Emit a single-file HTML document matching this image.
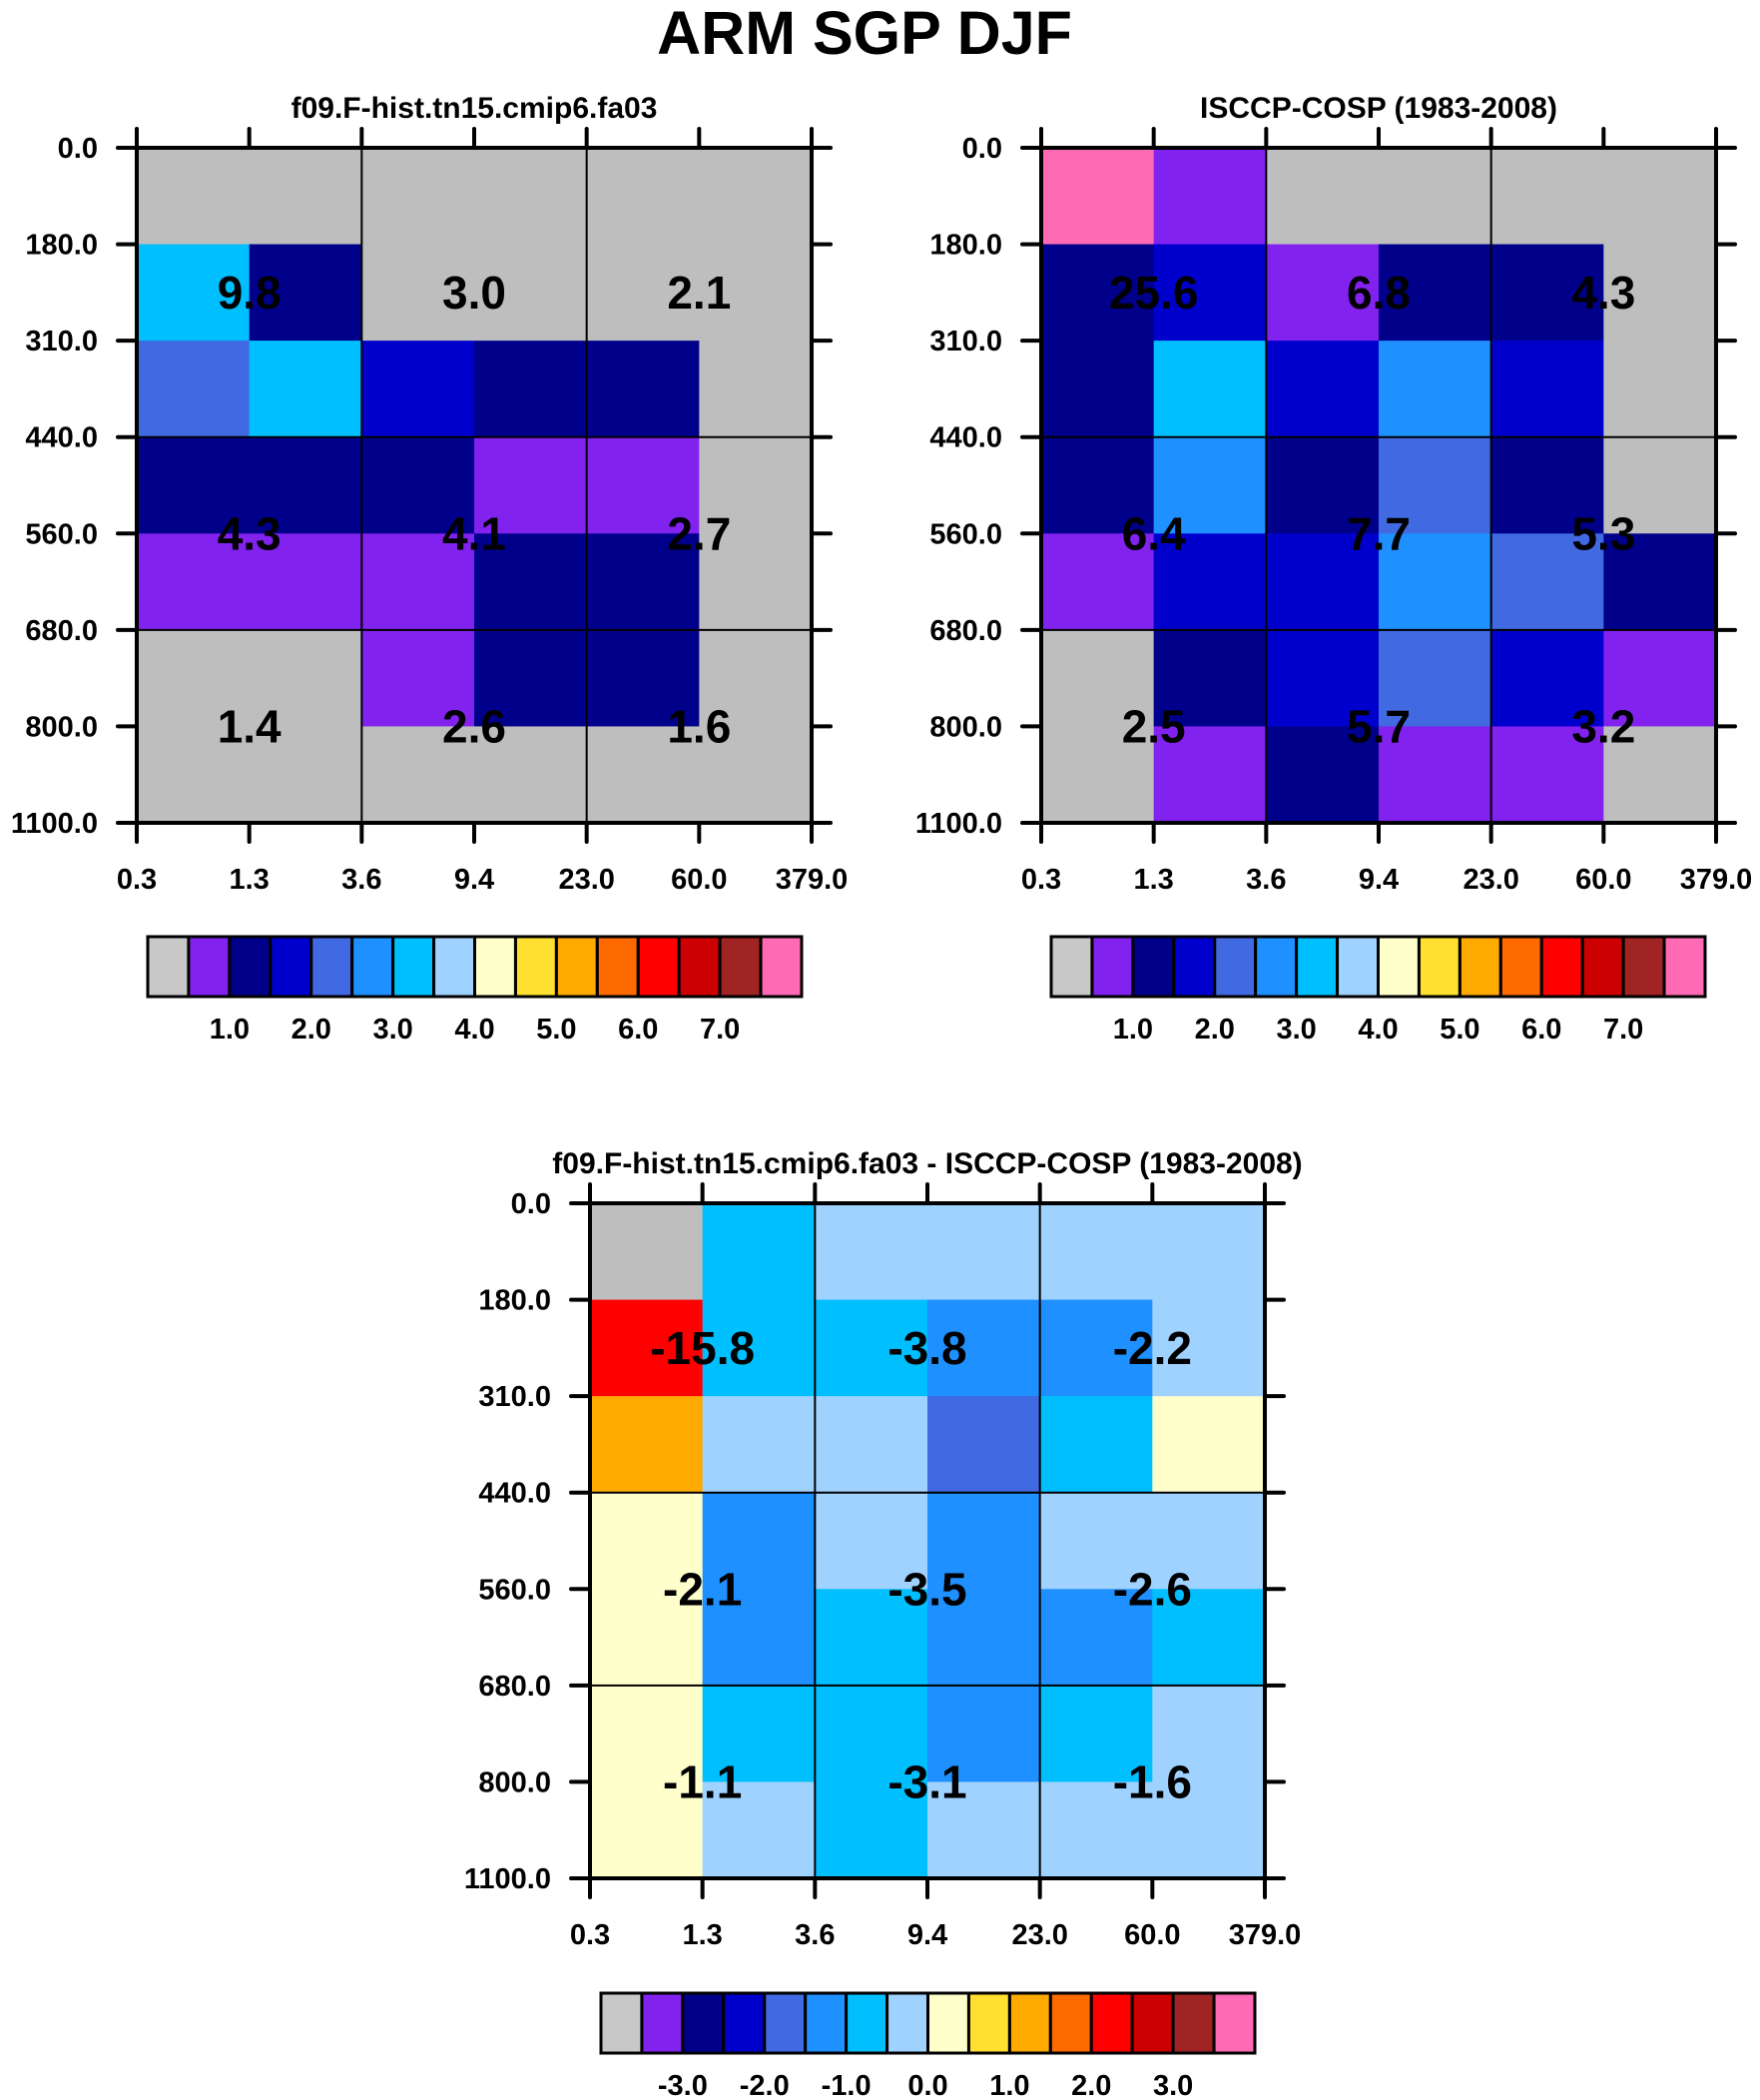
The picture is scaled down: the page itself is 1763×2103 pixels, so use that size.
<!DOCTYPE html>
<html><head><meta charset="utf-8"><style>
html,body{margin:0;padding:0;background:#fff}
svg{display:block;font-family:"Liberation Sans",Arial,sans-serif;font-weight:bold}
</style></head><body>
<svg id="s" width="1763" height="2103" viewBox="0 0 1763 2103" xmlns="http://www.w3.org/2000/svg">
<text x="866" y="54" text-anchor="middle" font-size="61">ARM SGP DJF</text>
</svg>
<script>
const xTickLabels = ["0.3","1.3","3.6","9.4","23.0","60.0","379.0"];
const yTickLabels = ["0.0","180.0","310.0","440.0","560.0","680.0","800.0","1100.0"];
const palette = ["#c8c8c8","#8222ee","#00008b","#0000cd","#4169e1","#1e90ff","#00bfff","#a0d2ff","#ffffcc","#ffe030","#ffaa00","#ff6a00","#ff0000","#cc0000","#a02424","#ff6ab4"];
const topLabels = ["1.0","2.0","3.0","4.0","5.0","6.0","7.0"];
const diffLabels = ["-3.0","-2.0","-1.0","0.0","1.0","2.0","3.0"];
const modelValues = [
 [0.2,0.2,0.2,0.2,0.2,0.2],
 [3.2,1.2,0.2,0.2,0.2,0.2],
 [2.2,3.2,1.7,1.2,1.2,0.2],
 [1.2,1.2,1.2,0.8,0.8,0.2],
 [0.8,0.8,0.8,1.2,1.2,0.2],
 [0.2,0.2,0.8,1.2,1.2,0.2],
 [0.2,0.2,0.2,0.2,0.2,0.2]];
const obsValues = [
 [8.0,0.8,0.2,0.2,0.2,0.2],
 [1.2,1.7,0.8,1.2,1.2,0.2],
 [1.2,3.2,1.7,2.7,1.7,0.2],
 [1.2,2.7,1.2,2.2,1.2,0.2],
 [0.8,1.7,1.7,2.7,2.2,1.2],
 [0.2,1.2,1.7,2.2,1.7,0.8],
 [0.2,0.8,1.2,0.8,0.8,0.2]];
const diffValues = [
 [-3.8,-0.7,-0.2,-0.2,-0.2,-0.2],
 [2.2,-0.7,-0.7,-1.2,-1.2,-0.2],
 [1.2,-0.2,-0.2,-1.7,-0.7,0.2],
 [0.2,-1.2,-0.2,-1.2,-0.2,-0.2],
 [0.2,-1.2,-0.7,-1.2,-1.2,-0.7],
 [0.2,-0.7,-0.7,-1.2,-0.7,-0.2],
 [0.2,-0.2,-0.7,-0.2,-0.2,-0.2]];
const modelTotals = [["9.8","3.0","2.1"],["4.3","4.1","2.7"],["1.4","2.6","1.6"]];
const obsTotals = [["25.6","6.8","4.3"],["6.4","7.7","5.3"],["2.5","5.7","3.2"]];
const diffTotals = [["-15.8","-3.8","-2.2"],["-2.1","-3.5","-2.6"],["-1.1","-3.1","-1.6"]];

const NS="http://www.w3.org/2000/svg";
const svg=document.getElementById('s');
function mk(tag,attrs,parent){const e=document.createElementNS(NS,tag);for(const k in attrs)e.setAttribute(k,attrs[k]);(parent||svg).appendChild(e);return e;}

function panel(name,X0,Y0,title,values,totals,lo,cbX,cbY,cbLabels){
  const W=676,H=676,nc=6,nr=7;
  const g=mk('g',{});
  
  
  const xs=i=>X0+i*W/nc, ys=j=>Y0+j*H/nr;
  const bin=v=>Math.max(0,Math.min(15,Math.floor((v-lo)/0.5)));
  const t=mk('text',{x:X0+W/2,y:Y0-30,'text-anchor':'middle','font-size':30},g);
  t.textContent=title;
  
  
  for(let r=0;r<nr;r++)for(let c=0;c<nc;c++){
    const k=bin(values[r][c]);
    const rc=mk('rect',{x:xs(c),y:ys(r),width:W/nc+0.6,height:H/nr+0.6,fill:k===0?'#bebebe':palette[k]},g);
    
    
  }
  [2,4].forEach(i=>{const l=mk('line',{x1:xs(i),x2:xs(i),y1:Y0,y2:Y0+H,stroke:'#000','stroke-width':2},g);
    });
  [3,5].forEach(j=>{const l=mk('line',{x1:X0,x2:X0+W,y1:ys(j),y2:ys(j),stroke:'#000','stroke-width':2},g);
    });
  const fr=mk('rect',{x:X0,y:Y0,width:W,height:H,fill:'none',stroke:'#000','stroke-width':4},g);
  
  xTickLabels.forEach((s,i)=>{
    mk('line',{x1:xs(i),x2:xs(i),y1:Y0,y2:Y0-19,stroke:'#000','stroke-width':4,'stroke-linecap':'round'},g);
    mk('line',{x1:xs(i),x2:xs(i),y1:Y0+H,y2:Y0+H+19,stroke:'#000','stroke-width':4,'stroke-linecap':'round'},g);
    const tx=mk('text',{x:xs(i),y:Y0+H+66,'text-anchor':'middle','font-size':29},g);
    tx.textContent=s;
    
    
  });
  yTickLabels.forEach((s,j)=>{
    mk('line',{x1:X0,x2:X0-19,y1:ys(j),y2:ys(j),stroke:'#000','stroke-width':4,'stroke-linecap':'round'},g);
    mk('line',{x1:X0+W,x2:X0+W+19,y1:ys(j),y2:ys(j),stroke:'#000','stroke-width':4,'stroke-linecap':'round'},g);
    const tx=mk('text',{x:X0-39,y:ys(j)+10,'text-anchor':'end','font-size':29},g);
    tx.textContent=s;
    
    
  });
  const rowPos=[1.5,4,6], colPos=[1,3,5];
  totals.forEach((row,a)=>row.forEach((s,b)=>{
    const tx=mk('text',{x:xs(colPos[b]),y:ys(rowPos[a])+16,'text-anchor':'middle','font-size':46},g);
    tx.textContent=s;
    
    
  }));
  const cb=mk('g',{},g);
  
  
  const bw=655/16;
  palette.forEach((col,k)=>{
    const b=mk('rect',{x:cbX+k*bw,y:cbY,width:bw,height:60,fill:col,stroke:'#000','stroke-width':3},cb);
    
    
  });
  cbLabels.forEach((s,k)=>{
    const tx=mk('text',{x:cbX+(2+2*k)*bw,y:cbY+102,'text-anchor':'middle','font-size':29},cb);
    tx.textContent=s;
    
    
  });
}
panel('model-panel',137,148,'f09.F-hist.tn15.cmip6.fa03',modelValues,modelTotals,0,148,938,topLabels);
panel('obs-panel',1043,148,'ISCCP-COSP (1983-2008)',obsValues,obsTotals,0,1053,938,topLabels);
panel('diff-panel',591,1205,'f09.F-hist.tn15.cmip6.fa03 - ISCCP-COSP (1983-2008)',diffValues,diffTotals,-4,602,1996,diffLabels);
</script>
</body></html>
